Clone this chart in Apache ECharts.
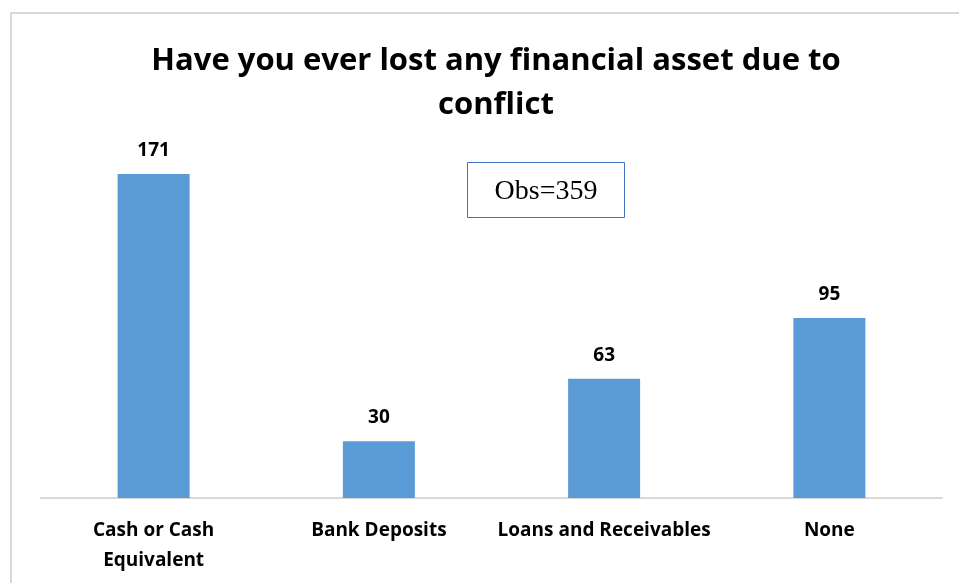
<!DOCTYPE html>
<html>
<head>
<meta charset="utf-8">
<script src="https://cdn.jsdelivr.net/npm/echarts@6/dist/echarts.min.js"></script>
<style>
  html, body { margin: 0; padding: 0; background: #ffffff; }
  #chart { width: 959px; height: 583px; }
</style>
</head>
<body>
<div id="chart"></div>
<script>
// Financial assets lost due to conflict (counts of respondents)
const categories = ['Cash or Cash\nEquivalent', 'Bank Deposits', 'Loans and Receivables', 'None'];
const counts = [171, 30, 63, 95];
const observations = 359;

const chart = echarts.init(document.getElementById('chart'));
const labelFont = '"Open Sans", Lato, sans-serif';

chart.setOption({
  animation: false,
  title: {
    text: 'Have you ever lost any financial asset due to\nconflict',
    left: 491,
    textAlign: 'center',
    top: 34,
    textStyle: {
      fontFamily: labelFont,
      fontWeight: 'bold',
      fontSize: 31,
      lineHeight: 44,
      color: '#000000'
    }
  },
  grid: { left: 41, right: 17, top: 157, bottom: 85 },
  xAxis: {
    type: 'category',
    data: categories,
    axisLine: { lineStyle: { color: '#d9d9d9', width: 2 } },
    axisTick: { show: false },
    axisLabel: {
      color: '#000000',
      fontFamily: labelFont,
      fontWeight: 'bold',
      fontSize: 19,
      lineHeight: 30,
      margin: 18,
      interval: 0
    }
  },
  yAxis: {
    type: 'value',
    min: 0,
    max: 180,
    show: false,
    splitLine: { show: false }
  },
  series: [{
    type: 'bar',
    data: counts,
    barWidth: 72,
    itemStyle: { color: '#5b9bd5' },
    label: {
      show: true,
      position: 'top',
      distance: 14,
      color: '#000000',
      fontFamily: labelFont,
      fontWeight: 'bold',
      fontSize: 19
    }
  }],
  graphic: [
    {
      type: 'rect',
      shape: { x: 11, y: 13, width: 960, height: 600 },
      style: { fill: 'none', stroke: '#d9d9d9', lineWidth: 2 },
      silent: true
    },
    {
      type: 'group',
      left: 467,
      top: 162,
      children: [
        {
          type: 'rect',
          shape: { x: 0, y: 0, width: 157, height: 55 },
          style: { fill: '#ffffff', stroke: '#4472c4', lineWidth: 1 }
        },
        {
          type: 'text',
          x: 78.5,
          y: 29,
          style: {
            text: 'Obs=' + observations,
            font: '28px "Liberation Serif", "Times New Roman", serif',
            fill: '#000000',
            align: 'center',
            verticalAlign: 'middle'
          }
        }
      ]
    }
  ]
});
</script>
</body>
</html>
